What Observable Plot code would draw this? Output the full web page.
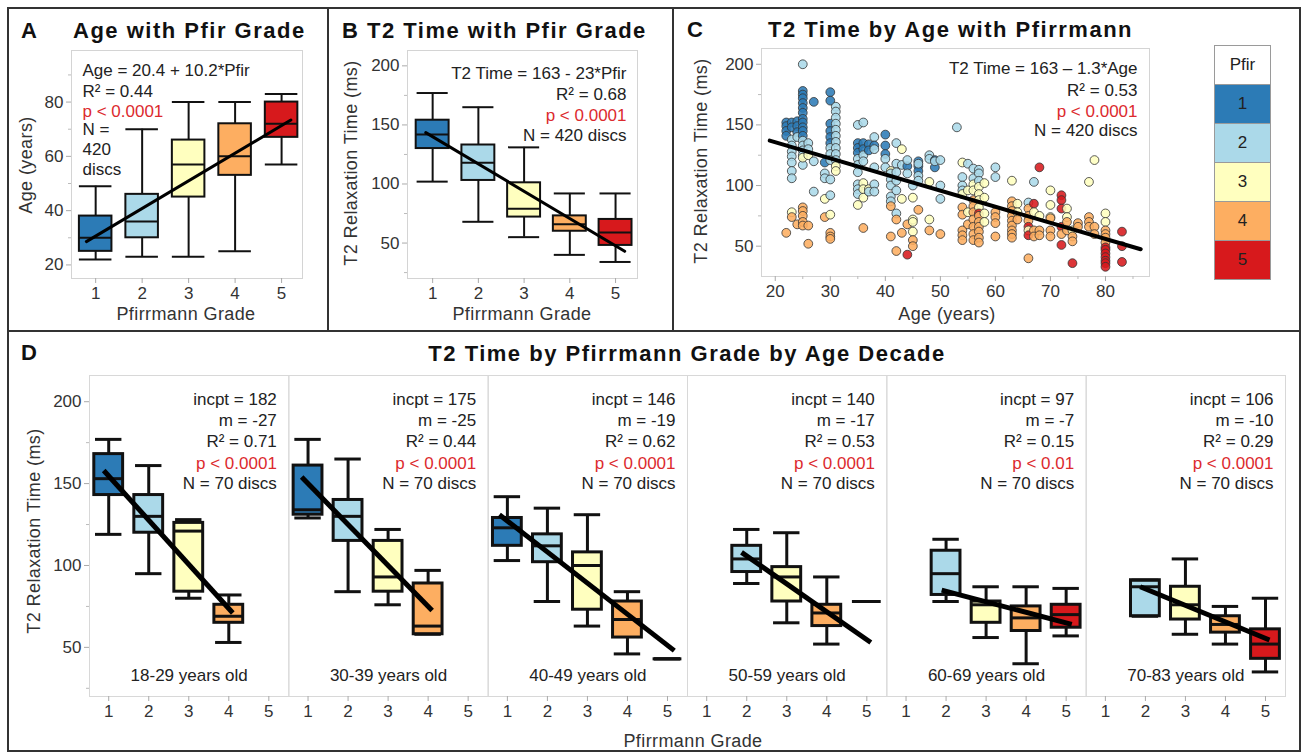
<!DOCTYPE html>
<html><head><meta charset="utf-8">
<script src="https://cdn.jsdelivr.net/npm/d3@7"></script>
<script src="https://cdn.jsdelivr.net/npm/@observablehq/plot@0.6"></script>
<style>
body{margin:0;background:#fff;}
#root{position:relative;width:1303px;height:753px;overflow:hidden;background:#fff;font-family:"Liberation Sans",Arial,sans-serif;color:#333;}
.plot{position:absolute;}
.title{position:absolute;font-weight:bold;font-size:22px;letter-spacing:1.5px;color:#111;line-height:1;transform:translateY(-50%);white-space:nowrap;}
.axt{position:absolute;font-size:18px;letter-spacing:0.4px;color:#333;white-space:nowrap;transform:translate(-50%,-50%);line-height:1;}
.axt.rot{transform:translate(-50%,-50%) rotate(-90deg);}
.bline{position:absolute;background:#333;}
.legend{position:absolute;left:1214px;top:45px;width:55px;border:1px solid #9a9a9a;font-size:17px;color:#222;}
.legend div{height:38px;line-height:38px;text-align:center;border-top:1px solid #9a9a9a;}
.legend div:first-child{border-top:none;background:#fff;}
</style></head><body><div id="root"></div>
<script>
// ---------- shared ----------
const grades = [1, 2, 3, 4, 5];
const gradeColors = ["#2c7bb6", "#abd9e9", "#ffffbf", "#fdae61", "#d7191c"];
const red = "#dc2a2e";

// ---------- Panel A: Age by Pfirrmann grade ----------
const ageLow  = [22, 23, 23, 25, 57];
const ageQ1   = [25, 30, 45, 53, 67];
const ageMed  = [30, 36, 57, 60, 72];
const ageQ3   = [38, 46, 66, 72, 80];
const ageHigh = [49, 70, 80, 80, 83];
const ageFit  = [[0.8, 28.6], [5.2, 73.4]];
const ageText = ["Age = 20.4 + 10.2*Pfir", "R² = 0.44", "p < 0.0001", "N =", "420", "discs"];

// ---------- Panel B: T2 by Pfirrmann grade ----------
const t2Low  = [102, 68, 55, 40, 34];
const t2Q1   = [130, 103, 72, 60, 48];
const t2Med  = [142, 118, 79, 66, 59];
const t2Q3   = [154, 133, 101, 73, 70];
const t2High = [177, 165, 131, 92, 92];
const t2Fit  = [[0.85, 143.5], [5.2, 43]];
const t2Text = ["T2 Time = 163 - 23*Pfir", "R² = 0.68", "p < 0.0001", "N = 420 discs"];

// ---------- Panel C: T2 by age, coloured by grade [age, T2, grade] ----------
const cPoints = [
 [22,152,1],[22,149,1],[22,145,1],[22,141,1],[22,61,4],
 [23,152,1],[23,148,1],[23,138,2],[23,133,2],[23,128,2],[23,124,2],[23,119,2],[23,112,2],[23,106,2],[23,78,3],[23,74,4],
 [24,153,1],[24,149,1],[24,144,1],[24,140,2],[24,68,4],
 [25,200,2],[25,178,1],[25,175,1],[25,172,1],[25,168,1],[25,164,1],[25,160,1],[25,155,1],[25,152,1],[25,148,1],[25,145,1],[25,141,1],[25,137,2],[25,133,2],[25,129,2],[25,125,2],[25,117,2],[25,123,3],[25,82,4],[25,79,4],[25,75,4],[25,70,4],[25,67,4],
 [26,135,2],[26,130,2],[26,125,3],[26,67,4],[26,52,4],
 [27,169,1],[27,120,2],[27,95,2],
 [29,119,1],[29,110,2],[29,106,2],[29,89,3],[29,74,4],
 [30,177,1],[30,170,1],[30,151,1],[30,145,1],[30,140,1],[30,135,1],[30,131,2],[30,126,2],[30,121,2],[30,105,2],[30,92,2],[30,76,3],[30,61,4],[30,58,4],[30,56,4],
 [31,165,2],[31,161,2],[31,156,2],[31,151,2],[31,146,2],[31,141,2],[31,136,2],[31,131,2],[31,126,2],[31,121,2],[31,116,3],[31,112,3],
 [35,150,2],[35,135,1],[35,131,1],[35,127,1],[35,122,2],[35,117,2],[35,111,2],[35,101,2],[35,97,2],[35,93,2],[35,84,3],
 [36,152,2],[36,135,1],[36,130,1],[36,125,2],[36,120,2],[36,102,3],[36,97,3],[36,90,3],[36,65,4],
 [37,134,1],[37,129,1],[37,97,3],[37,95,2],
 [38,140,2],[38,133,1],[38,130,2],[38,115,2],[38,101,2],[38,95,2],
 [40,142,1],[40,133,1],[40,126,1],[40,122,2],[40,115,2],
 [41,112,3],[41,110,2],[41,105,2],[41,100,2],[41,91,2],[41,87,2],[41,83,4],[41,58,4],
 [42,135,2],[42,118,2],[42,111,2],[42,104,2],[42,96,2],[42,77,2],[42,72,4],[42,46,4],
 [43,130,3],[43,117,2],[43,89,3],[43,61,4],
 [44,116,1],[44,121,2],[44,110,2],[44,68,4],[44,43,5],
 [45,100,2],[45,90,3],[45,72,3],[45,70,3],[45,62,3],[45,55,4],[45,50,4],
 [46,120,1],[46,116,1],[46,112,1],[46,108,2],[46,104,2],[46,118,2],[46,80,4],
 [48,125,2],[48,122,2],[48,103,3],[48,72,3],[48,63,4],
 [49,121,1],[49,115,1],[49,120,2],
 [50,121,2],[50,100,2],[50,89,2],[50,60,4],
 [53,148,2],
 [54,119,3],[54,107,2],[54,100,2],[54,96,2],[54,93,3],[54,82,4],[54,76,4],[54,63,4],[54,59,4],[54,55,4],
 [55,118,2],[55,96,3],[55,78,3],[55,68,4],
 [56,114,2],[56,106,2],[56,101,3],[56,96,3],[56,88,4],[56,83,4],[56,78,4],[56,72,4],[56,66,4],[56,60,4],[56,55,4],
 [57,113,2],[57,110,2],[57,104,2],[57,99,3],[57,93,3],[57,88,3],[57,82,3],[57,77,5],[57,75,4],[57,70,4],[57,66,4],[57,62,4],[57,57,4],[57,53,4],
 [58,102,3],[58,90,3],[58,77,3],[58,70,3],
 [60,115,2],[60,107,2],[60,78,4],[60,74,4],[60,69,4],[60,58,4],
 [63,104,3],[63,87,4],[63,83,4],[63,79,4],[63,75,4],[63,71,4],[63,67,4],[63,63,4],[63,60,4],[63,57,4],
 [64,85,3],[64,78,3],[64,72,4],
 [66,86,2],[66,81,4],[66,75,4],[66,71,4],[66,66,5],[66,63,3],[66,59,5],[66,40,4],
 [67,103,2],[67,85,5],[67,78,3],[67,63,4],[67,58,4],
 [68,115,5],[68,75,3],[68,63,4],[68,59,4],
 [70,96,3],[70,84,3],[70,74,3],[70,73,4],[70,63,4],[70,58,4],
 [72,92,5],[72,88,5],[72,81,5],[72,66,5],[72,60,4],[72,51,5],
 [73,81,3],[73,74,3],[73,70,4],[73,63,4],
 [74,63,3],[74,58,4],[74,54,4],[74,36,5],
 [75,69,4],[75,66,4],
 [77,103,3],[77,74,4],[77,70,4],[77,66,4],
 [78,121,3],[78,66,4],[78,60,4],
 [80,77,3],[80,70,3],[80,63,4],[80,60,4],[80,57,4],[80,53,4],[80,49,5],[80,47,5],[80,44,5],[80,41,5],[80,38,5],[80,36,5],[80,33,5],
 [83,62,5],[83,50,5],[83,37,5]
];
const cFit  = [[19, 137], [86.4, 47.5]];
const cText = ["T2 Time = 163 – 1.3*Age", "R² = 0.53", "p < 0.0001", "N = 420 discs"];

// ---------- Panel D: by age decade; rows [grade, low, q1, median, q3, high] ----------
const decades = ["18-29", "30-39", "40-49", "50-59", "60-69", "70-83"];
const dBoxes = [
  [[1,119,143,153,168,177],[2,95,120,130,143,161],[3,80,84,121,126,128],[4,53,65,69,76,82]],
  [[1,129,131,134,161,177],[2,84,115,130,140,165],[3,76,84,93,115,122],[4,58,58,63,89,97]],
  [[1,103,112,123,129,142],[2,78,102,112,119,135],[3,63,73,100,108,131],[4,46,56,67,78,84],[5,43,43,43,43,43]],
  [[2,89,96,104,112,122],[3,65,78,93,99,120],[4,52,63,71,76,93],[5,78,78,78,78,78]],
  [[2,78,82,95,109,116],[3,56,65,76,78,87],[4,40,60,68,75,87],[5,57,62,70,76,86]],
  [[2,69,69,87,91,91],[3,58,67,76,87,104],[4,52,59,64,69,75],[5,35,43,52,61,80]]
];
const dIncpt = [182, 175, 146, 140, 97, 106];
const dSlope = [-27, -25, -19, -17, -7, -10];
const dR2    = ["0.71", "0.44", "0.62", "0.53", "0.15", "0.29"];
const dP     = ["p < 0.0001", "p < 0.0001", "p < 0.0001", "p < 0.0001", "p < 0.01", "p < 0.0001"];
const dN     = [70, 70, 70, 70, 70, 70];
const dFitX1 = [0.875, 0.84, 0.8, 1.87, 1.89, 1.87];
const dFitY1 = [158, 154, 131, 108, 85, 87];
const dFitX2 = [4.1, 4.1, 5.17, 5.1, 5.14, 5.1];
const dFitY2 = [71, 72.5, 48, 53, 64, 54.5];

// ---------- helpers ----------
const root = document.getElementById("root");
const FONT = "Liberation Sans, Arial, sans-serif";
const colorScale = {type: "ordinal", domain: grades, range: gradeColors};
const baseStyle = {fontSize: "17px", fontFamily: FONT, color: "#333", background: "transparent", overflow: "visible"};
const intFmt = d3.format("d");

function place(svg, left, top) {
  svg.classList.add("plot");
  svg.style.left = left + "px";
  svg.style.top = top + "px";
  root.appendChild(svg);
}
function html(cls, text, css) {
  const el = document.createElement("div");
  el.className = cls;
  el.textContent = text;
  Object.assign(el.style, css);
  root.appendChild(el);
  return el;
}
function boxMarks(rows, o) {
  const ex = o.fx ? {fx: "facet"} : {};
  const k = {stroke: "#111", strokeWidth: o.sw, ...ex};
  return [
    Plot.ruleX(rows, {x: "g", y1: "low", y2: "high", ...k}),
    Plot.rect(rows, {x1: d => d.g - o.bw, x2: d => d.g + o.bw, y1: "q1", y2: "q3", fill: "g", ...k}),
    Plot.ruleY(rows, {y: "med", x1: d => d.g - o.bw, x2: d => d.g + o.bw, ...k}),
    Plot.ruleY(rows, {y: "low", x1: d => d.g - o.cw, x2: d => d.g + o.cw, ...k}),
    Plot.ruleY(rows, {y: "high", x1: d => d.g - o.cw, x2: d => d.g + o.cw, ...k})
  ];
}
function axes(yMajor, yMinor, xMajor, xMinor) {
  const m = [
    Plot.axisY({ticks: yMajor, tickFormat: intFmt, tickSize: 5, tickPadding: 3, label: null, stroke: "#aaa", fill: "#333", fontSize: 17}),
    Plot.axisY({ticks: yMinor, tickSize: 3, tickFormat: () => "", label: null, stroke: "#bbb"}),
    Plot.axisX({ticks: xMajor, tickFormat: intFmt, tickSize: 5, tickPadding: 3, label: null, stroke: "#aaa", fill: "#333", fontSize: 17})
  ];
  if (xMinor) m.push(Plot.axisX({ticks: xMinor, tickSize: 3, tickFormat: () => "", label: null, stroke: "#bbb"}));
  return m;
}
function textLines(lines, anchor, dx, dys, redIndex) {
  return lines.map((t, i) => Plot.text([t], {
    text: d => d, frameAnchor: anchor, dx, dy: dys[i], fontSize: 17,
    textAnchor: anchor.endsWith("left") ? "start" : "end",
    fill: i === redIndex ? red : "#222"
  }));
}
const boxRows = (lo, q1, md, q3, hi) => grades.map((g, i) => ({g, low: lo[i], q1: q1[i], med: md[i], q3: q3[i], high: hi[i]}));

// ---------- Panel A ----------
place(Plot.plot({
  width: 320, height: 330, marginLeft: 71, marginRight: 18, marginTop: 50, marginBottom: 52,
  style: baseStyle,
  x: {domain: [0.48, 5.45]}, y: {domain: [15, 99]}, color: colorScale,
  marks: [
    Plot.frame({stroke: "#d4d4d4"}),
    ...axes([20, 40, 60, 80], [30, 50, 70, 90], grades),
    ...boxMarks(boxRows(ageLow, ageQ1, ageMed, ageQ3, ageHigh), {bw: 0.35, cw: 0.35, sw: 2}),
    Plot.line(ageFit, {x: d => d[0], y: d => d[1], stroke: "#000", strokeWidth: 3}),
    ...textLines(ageText, "top-left", 11, [13, 34, 54, 72, 92, 112], 2)
  ]
}), 0, 0);

// ---------- Panel B ----------
place(Plot.plot({
  width: 320, height: 330, marginLeft: 77, marginRight: 13, marginTop: 50, marginBottom: 52,
  style: baseStyle,
  x: {domain: [0.45, 5.48]}, y: {domain: [20, 213]}, color: colorScale,
  marks: [
    Plot.frame({stroke: "#d4d4d4"}),
    ...axes([50, 100, 150, 200], [25, 75, 125, 175], grades),
    ...boxMarks(boxRows(t2Low, t2Q1, t2Med, t2Q3, t2High), {bw: 0.36, cw: 0.34, sw: 2}),
    Plot.line(t2Fit, {x: d => d[0], y: d => d[1], stroke: "#000", strokeWidth: 3}),
    ...textLines(t2Text, "top-right", -11, [16, 37, 58, 78], 2)
  ]
}), 330, 0);

// ---------- Panel C ----------
place(Plot.plot({
  width: 490, height: 330, marginLeft: 88, marginRight: 14, marginTop: 48, marginBottom: 54,
  style: baseStyle,
  x: {domain: [17.5, 88]}, y: {domain: [25, 213]}, color: colorScale,
  marks: [
    Plot.frame({stroke: "#d4d4d4"}),
    ...axes([50, 100, 150, 200], [75, 125, 175], [20, 30, 40, 50, 60, 70, 80], [25, 35, 45, 55, 65, 75, 85]),
    Plot.dot(cPoints, {x: d => d[0], y: d => d[1], fill: d => d[2], r: 4.4, stroke: "#333", strokeWidth: 0.8, fillOpacity: 0.88}),
    Plot.line(cFit, {x: d => d[0], y: d => d[1], stroke: "#000", strokeWidth: 4}),
    ...textLines(cText, "top-right", -12, [13, 35, 56, 75], 2)
  ]
}), 673, 0);

// ---------- Panel D ----------
const dRows = decades.flatMap((f, i) => dBoxes[i].map(r => ({facet: f, g: r[0], low: r[1], q1: r[2], med: r[3], q3: r[4], high: r[5]})));
const dFits = decades.map((f, i) => ({facet: f, x1: dFitX1[i], y1: dFitY1[i], x2: dFitX2[i], y2: dFitY2[i]}));
const dLines = decades.map((f, i) => [`incpt = ${dIncpt[i]}`, `m = ${dSlope[i]}`, `R² = ${dR2[i]}`, dP[i], `N = ${dN[i]} discs`]);
const dDy = [17, 38, 59, 81, 101];
const dTextMarks = dDy.map((dy, k) => Plot.text(decades.map((f, i) => ({facet: f, t: dLines[i][k]})), {
  fx: "facet", text: "t", frameAnchor: "top-right", textAnchor: "end", dx: -12, dy, fontSize: 17,
  fill: k === 3 ? red : "#222"
}));
place(Plot.plot({
  width: 1303, height: 423, marginLeft: 89, marginRight: 18, marginTop: 45, marginBottom: 57,
  style: baseStyle,
  fx: {domain: decades, padding: 0, axis: null, round: false},
  x: {domain: [0.52, 5.5]}, y: {domain: [20, 216]}, color: colorScale,
  marks: [
    Plot.frame({stroke: "#d8d8d8"}),
    ...axes([50, 100, 150, 200], [25, 75, 125, 175], grades),
    ...boxMarks(dRows, {bw: 0.36, cw: 0.33, sw: 3, fx: true}),
    Plot.link(dFits, {fx: "facet", x1: "x1", y1: "y1", x2: "x2", y2: "y2", stroke: "#000", strokeWidth: 5}),
    ...dTextMarks,
    Plot.text(decades, {fx: d => d, text: d => `${d} years old`, frameAnchor: "bottom", dy: -16, fontSize: 17, fill: "#222"})
  ]
}), 0, 330);

// ---------- titles & axis titles ----------
html("title", "A", {left: "21px", top: "31px"});
html("title", "Age with Pfir Grade", {left: "73px", top: "31px"});
html("title", "B T2 Time with Pfir Grade", {left: "342px", top: "31px"});
html("title", "C", {left: "687px", top: "30px"});
html("title", "T2 Time by Age with Pfirrmann", {left: "768px", top: "30px"});
html("title", "D", {left: "21px", top: "353px"});
html("title", "T2 Time by Pfirrmann Grade by Age Decade", {left: "687px", top: "354px", transform: "translate(-50%,-50%)"});

html("axt rot", "Age (years)", {left: "26px", top: "165px"});
html("axt rot", "T2 Relaxation Time (ms)", {left: "351px", top: "163px"});
html("axt rot", "T2 Relaxation Time (ms)", {left: "701px", top: "161px"});
html("axt rot", "T2 Relaxation Time (ms)", {left: "34px", top: "531px"});
html("axt", "Pfirrmann Grade", {left: "186px", top: "314px"});
html("axt", "Pfirrmann Grade", {left: "522px", top: "314px"});
html("axt", "Age (years)", {left: "947px", top: "314px"});
html("axt", "Pfirrmann Grade", {left: "693px", top: "741px"});

// ---------- legend ----------
const leg = document.createElement("div");
leg.className = "legend";
const head = document.createElement("div");
head.textContent = "Pfir";
leg.appendChild(head);
grades.forEach((g, i) => {
  const c = document.createElement("div");
  c.textContent = g;
  c.style.background = gradeColors[i];
  leg.appendChild(c);
});
root.appendChild(leg);

// ---------- panel borders ----------
[[7, 7, 1294, 2], [7, 330, 1294, 2], [7, 750, 1294, 2], [7, 7, 2, 745], [1299, 7, 2, 745], [327, 7, 2, 324], [672, 7, 2, 324]]
  .forEach(([l, t, w, h]) => html("bline", "", {left: l + "px", top: t + "px", width: w + "px", height: h + "px"}));
</script></body></html>
